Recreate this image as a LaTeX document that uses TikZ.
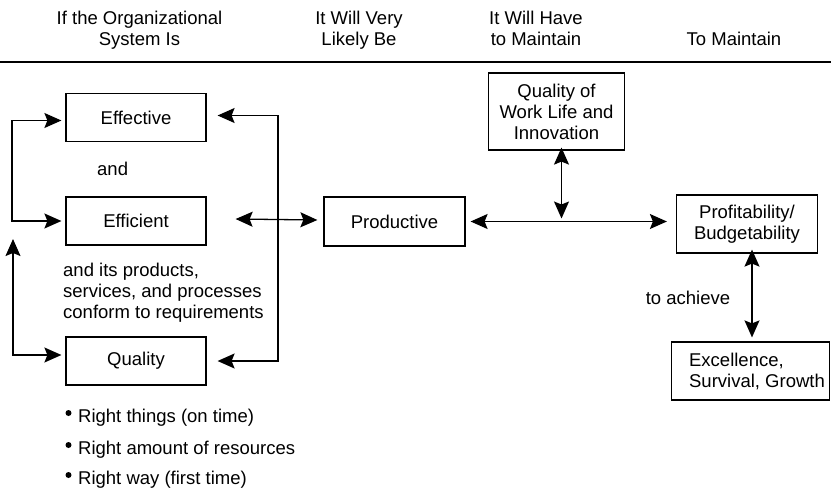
\documentclass[tikz,border=0pt]{standalone}
\usepackage{fontspec}
\setmainfont{Liberation Sans}
\usetikzlibrary{arrows.meta,calc}
\begin{document}
\begin{tikzpicture}[x=1pt,y=-1pt,
  txt/.style={font=\fontsize{18.5}{21}\selectfont, inner sep=0pt},
  head/.style={txt, align=center},
  box/.style={txt, draw, line width=1.2pt, align=center},
  link/.style={line width=1.3pt, {Stealth[length=17pt,width=15pt,inset=3pt]}-{Stealth[length=17pt,width=15pt,inset=3pt]}},
  dot/.style={fill, circle, inner sep=0pt, minimum size=6pt}]
\useasboundingbox (0,0) rectangle (831,491);

% column headings and rule
\node[head, anchor=base] (h1) at (139.5,45) {If the Organizational\\System Is};
\node[head, anchor=base] (h2) at (359,45) {It Will Very\\Likely Be};
\node[head, anchor=base] (h3) at (536,45) {It Will Have\\to Maintain};
\node[head, anchor=base] (h4) at (734,45) {To Maintain};
\draw[line width=1.2pt] (0,62) -- (831,62);

% left column boxes
\node[box, minimum width=140pt, minimum height=48pt] (eff) at (136,117.5) {Effective};
\node[box, minimum width=140pt, minimum height=48pt] (effi) at (136,221) {Efficient};
\node[box, minimum width=140pt, minimum height=48pt] (qual) at (136,361) {Quality};
\node[txt, anchor=west] (and) at (97,169) {and};
\node[txt, anchor=west, align=left] (conf) at (63,293)
  {and its products,\\services, and processes\\conform to requirements};

% middle and right boxes
\node[box, minimum width=141pt, minimum height=49pt] (prod) at (394.5,221.5) {Productive};
\node[box, minimum width=136pt, minimum height=77pt] (qwl) at (556.5,111.5)
  {Quality of\\Work Life and\\Innovation};
\node[box, minimum width=141pt, minimum height=58pt] (prof) at (747,224)
  {Profitability/\\Budgetability};
\node[box, minimum width=158pt, minimum height=58pt, align=left] (exc) at (750.5,371)
  {\hspace*{13pt}Excellence,\\\hspace*{13pt}Survival, Growth};
\node[txt] (ach) at (688,298) {to achieve};

% bullet list
\node[txt, anchor=west] (b1) at (78,418) {Right things (on time)};
\node[txt, anchor=west] (b2) at (78,450) {Right amount of resources};
\node[txt, anchor=west] (b3) at (78,480) {Right way (first time)};
\node[dot] (d1) at (68.5,413) {};
\node[dot] (d2) at (68.5,445) {};
\node[dot] (d3) at (68.5,475) {};

% left loops
\coordinate (lx) at (12,0);
\draw[link] ([shift={(-4pt,-3pt)}]eff.west) -| (lx |- effi.west) -- ([xshift=-4pt]effi.west);
\coordinate (uptip) at (13,239);
\draw[link] (uptip) |- ([shift={(-4pt,6pt)}]qual.west);

% right loop between Effective and Quality
\coordinate (rx) at (278,0);
\draw[link] ([shift={(11pt,2pt)}]eff.east) -| (rx |- qual.east) -- ([xshift=11pt]qual.east);

% Efficient to Productive
\draw[link] ([shift={(29pt,2pt)}]effi.east) -- ([shift={(-6pt,1.5pt)}]prod.west);

% Productive to Profitability
\draw[link] ([xshift=5pt]prod.east) -- ($(prof.west |- prod.east)+(-9,0)$);
\coordinate (junc) at ($(qwl.south |- prod.east)+(5,-3)$);
\draw[link] ([shift={(5pt,3pt)}]qwl.south) -- (junc);

% Profitability to Excellence
\draw[link] ([shift={(5pt,4pt)}]prof.south) -- ($(prof.south |- exc.north)+(5,-4)$);
\end{tikzpicture}
\end{document}
